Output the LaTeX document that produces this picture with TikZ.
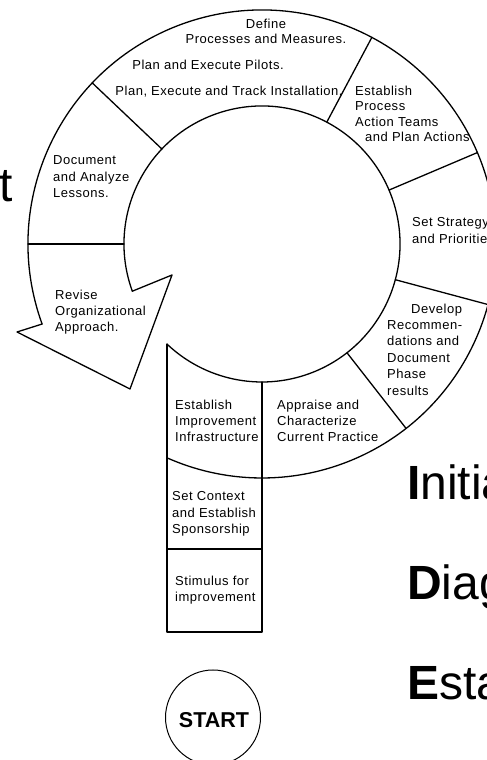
\documentclass[tikz,border=0pt]{standalone}
\usepackage{fontspec}
\setmainfont{Liberation Sans}
\newfontfamily\phasefont[LetterSpace=4]{Liberation Sans}
\usetikzlibrary{calc}
\begin{document}
\begin{tikzpicture}[x=1pt,y=1pt,
  edge/.style={line width=1.3pt, line join=round, line cap=round},
  lbl/.style={inner sep=0pt, align=left, anchor=north west, font=\phasefont\fontsize{13}{16.4}\selectfont},
  ctr/.style={inner sep=0pt, align=center, anchor=north, font=\phasefont\fontsize{13}{15.2}\selectfont},
  big/.style={inner sep=0pt, anchor=base west, font=\fontsize{48}{50}\selectfont}]
\useasboundingbox (0,0) rectangle (487,760);
\clip (0,0) rectangle (487,760);

% centre of the cycle ring
\coordinate (C) at (262,516);

% outer and inner rims of the ring
\draw[edge] ($(C)+(200:234)$) coordinate (oend) arc[start angle=200, end angle=-113.9, radius=234];
\draw[edge] ($(C)+(200:138)$) coordinate (iend) arc[start angle=200, end angle=-133.5, radius=138];

% radial dividers between the phases
\foreach \a in {-52,-15,23,62,136.5,180}
  \draw[edge] ($(C)+(\a:138)$) -- ($(C)+(\a:234)$);

% arrow head closing the cycle
\coordinate (barbL) at (17,428);
\coordinate (tip) at (130,371);
\coordinate (barbR) at (172,485);
\draw[edge] (oend) -- (barbL) -- (tip) -- (barbR) -- (iend);

% entry column under the ring
\coordinate (colTL) at (167,415.9);
\coordinate (colBL) at (167,128);
\coordinate (colBR) at (262,128);
\coordinate (colTR) at (262,378);
\draw[edge] (colTL) -- (colBL) -- (colBR) -- (colTR);
\draw[edge] (167,211) coordinate (sepL) -- (262,211) coordinate (sepR);

% phase labels
\node[ctr] (define) at (266,741.5) {Define\\Processes and Measures.};
\node[ctr] (pilots) at (208,700.5) {Plan and Execute Pilots.};
\node[ctr] (install) at (229,674.5) {Plan, Execute and Track Installation.};
\node[lbl, font=\phasefont\fontsize{13}{15.6}\selectfont] (pat) at (355,674.5) {Establish\\Process\\Action Teams\\\hspace*{10pt}and Plan Actions};
\node[lbl] (lessons) at (53,604.5) {Document\\and Analyze\\Lessons.};
\node[lbl] (revise) at (55,470.5) {Revise\\Organizational\\Approach.};
\node[lbl] (strategy) at (412,542.5) {Set Strategy\\and Priorities};
\node[lbl] (develop) at (387,456.5) {\hspace*{24pt}Develop\\Recommen-\\dations and\\Document\\Phase\\results};
\node[lbl] (appraise) at (277,360.5) {Appraise and\\Characterize\\Current Practice};
\node[lbl] (infra) at (175,360.5) {Establish\\Improvement\\Infrastructure};
\node[lbl] (context) at (172,268.5) {Set Context\\and Establish\\Sponsorship};
\node[lbl] (stimulus) at (175,184.5) {Stimulus for\\improvement};

% start marker
\node[draw, circle, line width=1pt, minimum size=95pt, inner sep=0pt] (start) at (213,42.5) {};
\node[inner sep=0pt, font=\fontsize{21.5}{22}\selectfont\bfseries] (starttext) at (214,39.5) {START};

% large phase names along the right edge
\node[big] (initiating) at (407,260) {\textbf{I}nitia};
\node[big] (diagnosing) at (407,160) {\textbf{D}iag};
\node[big] (establishing) at (407,60) {\textbf{E}sta};
\node[big, anchor=base east] (leftword) at (13,558) {t};
\end{tikzpicture}
\end{document}
